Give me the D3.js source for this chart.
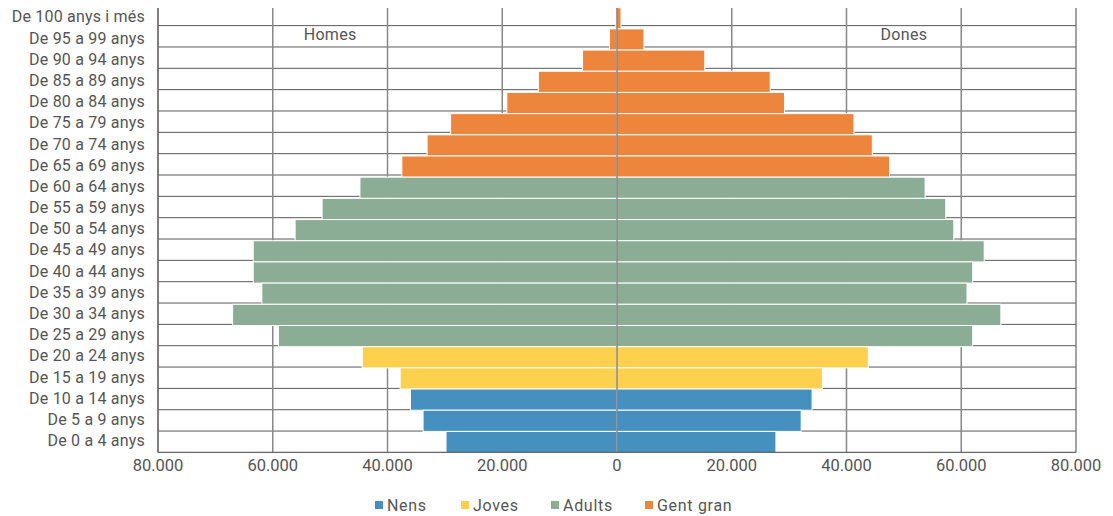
<!DOCTYPE html>
<html>
<head>
<meta charset="utf-8">
<script src="https://cdn.jsdelivr.net/npm/d3@7"></script>
<style>
  html, body { margin: 0; padding: 0; background: #fff; }
  svg { display: block; font-family: Roboto, "Liberation Sans", sans-serif; }
</style>
</head>
<body>
<svg id="chart" width="1113" height="516"></svg>
<script>
const categories = [
  "De 100 anys i més", "De 95 a 99 anys", "De 90 a 94 anys", "De 85 a 89 anys",
  "De 80 a 84 anys", "De 75 a 79 anys", "De 70 a 74 anys", "De 65 a 69 anys",
  "De 60 a 64 anys", "De 55 a 59 anys", "De 50 a 54 anys", "De 45 a 49 anys",
  "De 40 a 44 anys", "De 35 a 39 anys", "De 30 a 34 anys", "De 25 a 29 anys",
  "De 20 a 24 anys", "De 15 a 19 anys", "De 10 a 14 anys", "De 5 a 9 anys",
  "De 0 a 4 anys"
];
const homes = [200, 1300, 6000, 13700, 19200, 29000, 33100, 37500,
  44800, 51400, 56100, 63400, 63400, 61900, 67000, 59000,
  44400, 37800, 36000, 33800, 29800];
const dones = [700, 4700, 15300, 26700, 29200, 41300, 44500, 47500,
  53700, 57300, 58700, 64000, 62000, 61000, 66900, 62000,
  43800, 35800, 34000, 32100, 27700];
const groupOf = ["Gent gran", "Gent gran", "Gent gran", "Gent gran", "Gent gran", "Gent gran", "Gent gran", "Gent gran",
  "Adults", "Adults", "Adults", "Adults", "Adults", "Adults", "Adults", "Adults",
  "Joves", "Joves", "Nens", "Nens", "Nens"];
const groups = ["Nens", "Joves", "Adults", "Gent gran"];
const groupColors = ["#4690c0", "#fdd14d", "#8bad96", "#ee853d"];
const tickValues = [-80000, -60000, -40000, -20000, 0, 20000, 40000, 60000, 80000];
const sideLabels = ["Homes", "Dones"];

(function () {
const svg = d3.select("#chart");
const pLeft = 158, pRight = 1076, pTop = 4.3, pBottom = 452.4;

const x = d3.scaleLinear().domain([-80000, 80000]).range([pLeft, pRight]);
const yGrid = d3.scaleBand().domain(categories).range([pTop, pBottom]).padding(0);
const y = d3.scaleBand().domain(categories).range([7.7, 452.6]).padding(0);
const color = d3.scaleOrdinal().domain(groups).range(groupColors);
const loc = d3.formatLocale({decimal: ",", thousands: ".", grouping: [3], currency: ["", "€"]});
const fmt = loc.format(",.0f");

// horizontal gridlines (category separators)
svg.append("g").selectAll("line")
  .data(categories.slice(1))
  .join("line")
  .attr("x1", pLeft).attr("x2", pRight)
  .attr("y1", d => yGrid(d)).attr("y2", d => yGrid(d))
  .attr("stroke", "#5a5a5a").attr("stroke-width", 1);

// vertical gridlines
svg.append("g").selectAll("line")
  .data(tickValues.filter(v => v !== 0))
  .join("line")
  .attr("x1", d => x(d)).attr("x2", d => x(d))
  .attr("y1", 8).attr("y2", pBottom)
  .attr("stroke", d => Math.abs(d) === 80000 ? "#666" : "#888")
  .attr("stroke-width", d => Math.abs(d) === 80000 ? 1.2 : 1.5);

// bars
const rows = categories.map((c, i) => ({c, h: homes[i], d: dones[i], g: groupOf[i]}));
svg.append("g").selectAll("rect")
  .data(rows).join("rect")
  .attr("x", d => x(-d.h)).attr("width", d => x(0) - x(-d.h))
  .attr("y", d => y(d.c)).attr("height", y.bandwidth())
  .attr("fill", d => color(d.g)).attr("stroke", "#fff").attr("stroke-width", 1);
svg.append("g").selectAll("rect")
  .data(rows).join("rect")
  .attr("x", x(0)).attr("width", d => x(d.d) - x(0))
  .attr("y", d => y(d.c)).attr("height", y.bandwidth())
  .attr("fill", d => color(d.g)).attr("stroke", "#fff").attr("stroke-width", 1);

// zero line
svg.append("line")
  .attr("x1", x(0)).attr("x2", x(0)).attr("y1", 8).attr("y2", pBottom)
  .attr("stroke", "#4a4a4a").attr("stroke-width", 1);

// x axis line
svg.append("line")
  .attr("x1", pLeft).attr("x2", pRight).attr("y1", pBottom).attr("y2", pBottom)
  .attr("stroke", "#666").attr("stroke-width", 1.2);

// y axis line
svg.append("line")
  .attr("x1", pLeft).attr("x2", pLeft).attr("y1", 8).attr("y2", pBottom)
  .attr("stroke", "#666").attr("stroke-width", 1.2);

// category labels
svg.append("g").selectAll("text")
  .data(categories).join("text")
  .attr("x", 145)
  .attr("y", d => y(d) + y.bandwidth() / 2 - 1.5)
  .attr("dy", "0.35em")
  .attr("text-anchor", "end")
  .attr("font-size", 16)
  .attr("letter-spacing", 0.2)
  .attr("fill", "#555")
  .text(d => d);

// x tick labels
svg.append("g").selectAll("text")
  .data(tickValues).join("text")
  .attr("x", d => x(d))
  .attr("y", 471)
  .attr("text-anchor", "middle")
  .attr("font-size", 16.5)
  .attr("fill", "#555")
  .text(d => fmt(Math.abs(d)));

// side labels
svg.append("text").attr("x", x(-50000)).attr("y", 40).attr("text-anchor", "middle")
  .attr("font-size", 16).attr("letter-spacing", 0.3).attr("fill", "#555").text(sideLabels[0]);
svg.append("text").attr("x", x(50000)).attr("y", 40).attr("text-anchor", "middle")
  .attr("font-size", 16).attr("letter-spacing", 0.3).attr("fill", "#555").text(sideLabels[1]);

// legend
const legendX = [375, 461, 551, 645];
const lg = svg.append("g").selectAll("g")
  .data(groups).join("g")
  .attr("transform", (d, i) => `translate(${legendX[i]},505)`);
lg.append("rect").attr("x", 0).attr("y", -4).attr("width", 8).attr("height", 8)
  .attr("fill", d => color(d));
lg.append("text").attr("x", 12).attr("y", 0).attr("dy", "0.35em")
  .attr("font-size", 16).attr("fill", "#555").attr("letter-spacing", 0.7)
  .text(d => d);
})();
</script>
</body>
</html>
